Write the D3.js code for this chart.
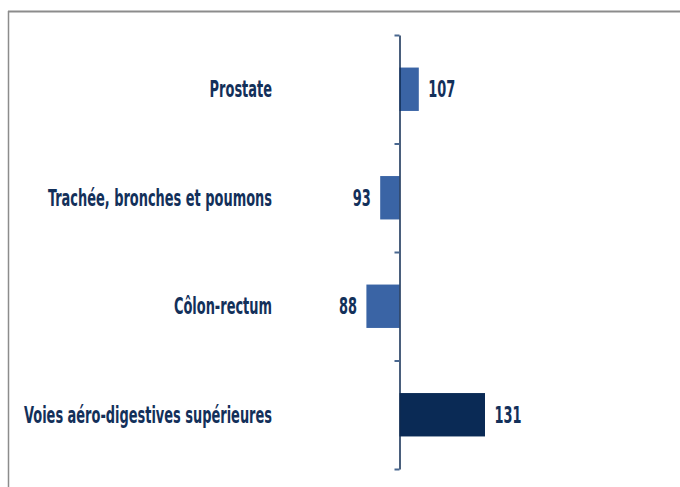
<!DOCTYPE html>
<html>
<head>
<meta charset="utf-8">
<script src="https://cdn.jsdelivr.net/npm/d3@7"></script>
<style>
  body { margin: 0; background: #fff; }
  text { font-family: "DejaVu Sans Condensed", "DejaVu Sans", sans-serif; font-weight: bold; fill: #13305a; }
</style>
</head>
<body>
<script>
// Chart data
const categories = ["Prostate", "Trachée, bronches et poumons", "Côlon-rectum", "Voies aéro-digestives supérieures"];
const values = [107, 93, 88, 131];
const significant = [false, false, false, true];   // dark bar = significant
const baseline = 100;

const width = 680, height = 487;
const fontSize = 18;
const squeeze = 0.8, stretch = 1.27;               // text in the picture is narrow and tall

const svg = d3.select("body").append("svg")
    .attr("width", width)
    .attr("height", height);

// --- Frame (top and left gray border) ---
svg.append("line")
    .attr("x1", 8).attr("x2", width).attr("y1", 11.5).attr("y2", 11.5)
    .attr("stroke", "#8c8c8c").attr("stroke-width", 2);
svg.append("line")
    .attr("x1", 8.5).attr("x2", 8.5).attr("y1", 11).attr("y2", height)
    .attr("stroke", "#8c8c8c").attr("stroke-width", 1.5);

// --- Scales ---
const x = d3.scaleLinear()
    .domain([baseline, 131])
    .range([399.5, 485]);

const y = d3.scaleBand()
    .domain(categories)
    .range([35, 469])
    .paddingInner(0.6)
    .paddingOuter(0.3);

// Boundary ticks between categories
const yTicks = d3.scaleLinear()
    .domain([0, categories.length])
    .range([35, 469]);

// --- Bars ---
svg.append("g")
    .selectAll("rect")
    .data(values)
    .join("rect")
    .attr("x", d => Math.min(x(d), x(baseline)))
    .attr("width", d => Math.abs(x(d) - x(baseline)))
    .attr("y", (d, i) => y(categories[i]))
    .attr("height", y.bandwidth())
    .attr("fill", (d, i) => significant[i] ? "#0a2a55" : "#3a64a5");

// --- Axis at the baseline ---
svg.append("g")
    .attr("transform", `translate(${x(baseline)},0)`)
    .call(d3.axisLeft(yTicks)
        .tickValues(d3.range(categories.length + 1))
        .tickSize(5)
        .tickSizeOuter(0)
        .tickFormat(""))
    .call(g => g.select(".domain").attr("stroke", "#0e2a50").attr("stroke-width", 1.5))
    .call(g => g.selectAll(".tick line").attr("stroke", "#4a6890").attr("stroke-width", 2));

// --- Category labels ---
svg.append("g")
    .selectAll("text")
    .data(categories)
    .join("text")
    .attr("text-anchor", "end")
    .attr("font-size", fontSize)
    .attr("transform", d => `translate(272,${y(d) + y.bandwidth() / 2}) scale(${squeeze},${stretch})`)
    .attr("dy", "0.36em")
    .text(d => d);

// --- Value labels ---
svg.append("g")
    .selectAll("text")
    .data(values)
    .join("text")
    .attr("text-anchor", d => d < baseline ? "end" : "start")
    .attr("font-size", fontSize)
    .attr("transform", (d, i) => {
        const tx = d < baseline ? x(d) - 9.5 : x(d) + 9.5;
        return `translate(${tx},${y(categories[i]) + y.bandwidth() / 2}) scale(${squeeze},${stretch})`;
    })
    .attr("dy", "0.36em")
    .text(d => d);
</script>
</body>
</html>
